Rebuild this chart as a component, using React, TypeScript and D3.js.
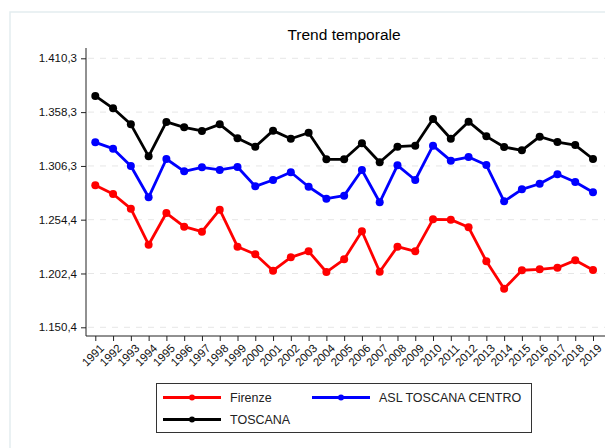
import React, { useEffect, useRef } from 'react';
import * as d3 from 'd3';

const years = d3.range(1991, 2020).map(String);

const firenze = [
  1287.6, 1279.2, 1265.0, 1230.2, 1260.8, 1247.6, 1242.8, 1264.0, 1228.3, 1220.9,
  1205.1, 1218.0, 1223.8, 1203.8, 1216.1, 1243.2, 1204.1, 1228.3, 1223.8, 1254.7,
  1254.4, 1247.0, 1214.2, 1187.7, 1205.5, 1206.4, 1208.0, 1215.1, 1205.8,
];

const aslCentro = [
  1329.1, 1323.0, 1306.2, 1276.0, 1313.0, 1301.1, 1305.0, 1302.4, 1305.3, 1286.6,
  1292.7, 1300.2, 1286.2, 1274.7, 1277.6, 1302.4, 1271.2, 1306.9, 1292.7, 1325.9,
  1311.4, 1314.9, 1307.2, 1272.1, 1283.7, 1289.1, 1298.2, 1290.8, 1280.8,
];

const toscana = [
  1373.9, 1362.0, 1346.5, 1315.6, 1348.8, 1343.6, 1340.1, 1346.5, 1333.0, 1324.9,
  1340.4, 1332.6, 1338.4, 1312.7, 1312.7, 1328.2, 1309.8, 1324.9, 1325.9, 1351.7,
  1332.6, 1349.1, 1334.9, 1324.6, 1321.4, 1334.6, 1329.4, 1326.5, 1313.0,
];

const yTicks = [1150.4, 1202.4, 1254.4, 1306.3, 1358.3, 1410.3];

const series = [
  { name: 'Firenze', color: '#ff0000', values: firenze },
  { name: 'ASL TOSCANA CENTRO', color: '#0000ff', values: aslCentro },
  { name: 'TOSCANA', color: '#000000', values: toscana },
];

const fmt = (v: number) =>
  d3.format(',.1f')(v).replace(/\./g, '#').replace(/,/g, '.').replace(/#/g, ',');

export default function App() {
  const svgRef = useRef<SVGSVGElement>(null);

  useEffect(() => {
    if (!svgRef.current) return;
    const width = 605;
    const svg = d3.select(svgRef.current);
    svg.selectAll('*').remove();
    const font = 'Liberation Sans, Arial, sans-serif';

    // outer frame
    svg.append('rect')
      .attr('x', 10).attr('y', 12)
      .attr('width', 700).attr('height', 500)
      .attr('fill', 'none')
      .attr('stroke', '#e3edef')
      .attr('stroke-width', 1.5);

    const left = 86;
    const bottom = 336;

    const x = d3.scalePoint()
      .domain(years)
      .range([95.3, 593]);

    const y = d3.scaleLinear()
      .domain([1150.4, 1410.3])
      .range([327.3, 58.3]);

    // title
    svg.append('text')
      .attr('x', 344).attr('y', 40)
      .attr('text-anchor', 'middle')
      .attr('font-family', font)
      .attr('font-size', 15.5)
      .text('Trend temporale');

    // grid
    svg.append('g')
      .selectAll('line')
      .data(yTicks)
      .enter()
      .append('line')
      .attr('x1', left + 2).attr('x2', width)
      .attr('y1', d => y(d)).attr('y2', d => y(d))
      .attr('stroke', '#e6e6e6')
      .attr('stroke-width', 1)
      .attr('stroke-dasharray', '6,6');

    // y axis
    const yAxis = svg.append('g')
      .attr('transform', `translate(${left},0)`)
      .call(d3.axisLeft(y).tickValues(yTicks).tickFormat(d => fmt(+d)).tickSize(5).tickPadding(4));
    yAxis.select('.domain').attr('d', `M0,48V${bottom}`).attr('stroke', '#222');
    yAxis.selectAll('text').attr('font-family', font).attr('font-size', 11.5).attr('fill', '#111');
    yAxis.selectAll('.tick line').attr('stroke', '#222');

    // x axis
    const xAxis = svg.append('g')
      .attr('transform', `translate(0,${bottom})`)
      .call(d3.axisBottom(x).tickSize(5).tickPadding(2));
    xAxis.select('.domain').attr('d', `M${left},0H${width}`).attr('stroke', '#222');
    xAxis.selectAll('.tick line').attr('stroke', '#222');
    xAxis.selectAll('text')
      .attr('font-family', font)
      .attr('font-size', 11.5)
      .attr('fill', '#111')
      .attr('text-anchor', 'end')
      .attr('dy', '0')
      .attr('transform', 'translate(4,8) rotate(-45)');

    // lines
    const line = d3.line<number>()
      .x((d, i) => x(years[i]) || 0)
      .y(d => y(d));

    const order = [series[2], series[1], series[0]];
    order.forEach(s => {
      svg.append('path')
        .datum(s.values)
        .attr('d', line)
        .attr('fill', 'none')
        .attr('stroke', s.color)
        .attr('stroke-width', 2.8)
        .attr('stroke-linejoin', 'round');
      svg.append('g')
        .selectAll('circle')
        .data(s.values)
        .enter()
        .append('circle')
        .attr('cx', (d, i) => x(years[i]) || 0)
        .attr('cy', d => y(d))
        .attr('r', 4)
        .attr('fill', s.color);
    });

    // legend
    const lg = svg.append('g');
    lg.append('rect')
      .attr('x', 156.5).attr('y', 383.5)
      .attr('width', 375).attr('height', 49)
      .attr('fill', '#fff')
      .attr('stroke', '#333')
      .attr('stroke-width', 1);
    const pos = [
      { lx: 163, ly: 397.5 },
      { lx: 312, ly: 397.5 },
      { lx: 163, ly: 419.5 },
    ];
    series.forEach((s, i) => {
      const p = pos[i];
      lg.append('line')
        .attr('x1', p.lx).attr('x2', p.lx + 58)
        .attr('y1', p.ly).attr('y2', p.ly)
        .attr('stroke', s.color).attr('stroke-width', 3);
      lg.append('circle')
        .attr('cx', p.lx + 29).attr('cy', p.ly)
        .attr('r', 3).attr('fill', s.color);
      lg.append('text')
        .attr('x', p.lx + 67).attr('y', p.ly + 4.5)
        .attr('font-family', font)
        .attr('font-size', 12.5)
        .attr('fill', '#222')
        .text(s.name);
    });
  }, []);

  return (
    <svg
      ref={svgRef}
      width={605}
      height={448}
      style={{ position: 'absolute', left: 0, top: 0, background: '#fff' }}
    />
  );
}
